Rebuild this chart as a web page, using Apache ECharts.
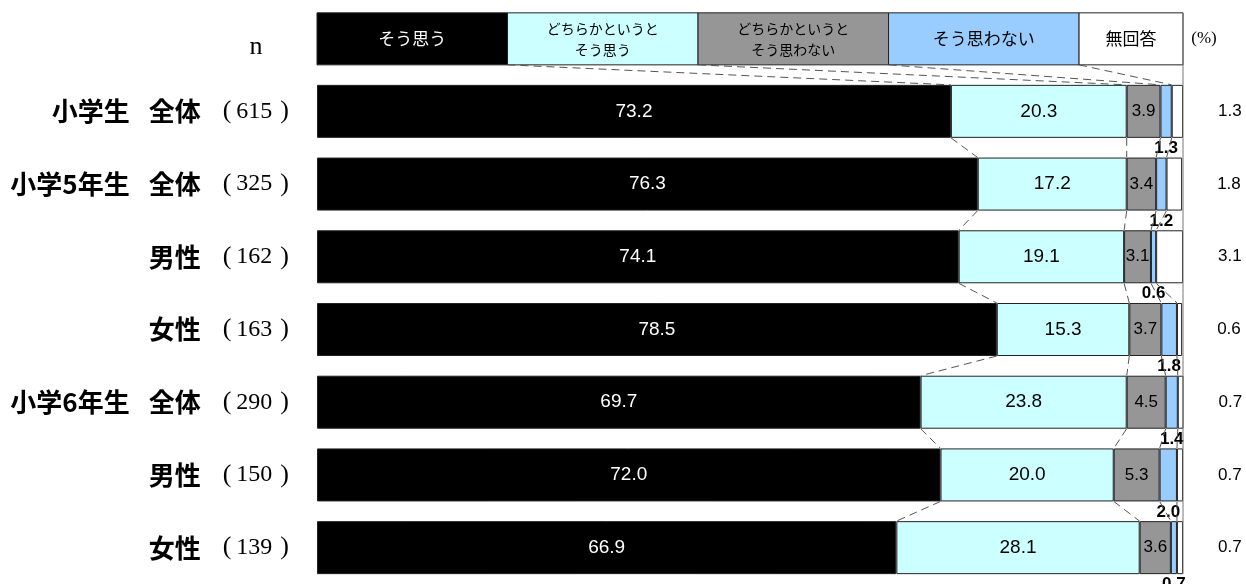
<!DOCTYPE html>
<html><head><meta charset="utf-8">
<script src="https://cdn.jsdelivr.net/npm/echarts@6/dist/echarts.min.js"></script>
<style>html,body{margin:0;padding:0;background:#fff}#c{width:1246px;height:584px}</style>
</head><body><div id="c"></div>
<script>
const categories = ['小学生 全体','小学5年生 全体','男性','女性','小学6年生 全体','男性','女性'];
const nCounts = ['615','325','162','163','290','150','139'];
const seriesNames = ['そう思う','どちらかというと\nそう思う','どちらかというと\nそう思わない','そう思わない','無回答'];
const sou = [73.2,76.3,74.1,78.5,69.7,72.0,66.9];
const dochiraSou = [20.3,17.2,19.1,15.3,23.8,20.0,28.1];
const dochiraNot = [3.9,3.4,3.1,3.7,4.5,5.3,3.6];
const souNot = [1.3,1.2,0.6,1.8,1.4,2.0,0.7];
const noAnswer = [1.3,1.8,3.1,0.6,0.7,0.7,0.7];
const legendSpans = [22,22,22,22,12];

const colors = ['#000000','#CCFFFF','#969696','#99CCFF','#FFFFFF'];
const textColors = ['#FFFFFF','#000000','#000000','#000000','#000000'];
const allSeries = [sou, dochiraSou, dochiraNot, souNot, noAnswer];
const BAR_W = 53;
const NUM_FONT = 'Liberation Sans, Arial, sans-serif';
const JP_FONT = '"Noto Sans CJK JP", sans-serif';
const SERIF = '"Liberation Serif", serif';

const yData = categories.map((c,i)=>c+'|'+nCounts[i]);

const chart = echarts.init(document.getElementById('c'), null, {renderer:'canvas'});

const barSeries = allSeries.map((vals, k) => {
  const s = {
    name: seriesNames[k], type:'bar', stack:'total', barWidth: BAR_W,
    data: vals,
    itemStyle: {color: colors[k], borderColor:'#222', borderWidth:1},
    label: {show:true, formatter: p => Number(p.value).toFixed(1), fontFamily: NUM_FONT,
            fontSize: 19, color: textColors[k], position:'inside'}
  };
  if (k===2) { s.label.fontSize = 17; }
  if (k===3) { s.label = {show:true, position:'bottom', distance:2, fontFamily:NUM_FONT, fontWeight:'bold',
      fontSize:17, color:'#000', formatter: p => Number(p.value).toFixed(1)}; }
  if (k===4) { s.label = {show:true, position:'right', distance:35, fontFamily:NUM_FONT,
      fontSize:17, color:'#000', formatter: p => Number(p.value).toFixed(1)}; }
  return s;
});

function cumAt(i, k){ let s=0; for(let j=0;j<k;j++) s+=allSeries[j][i]; return s; }

const overlay = {
  type:'custom', z: 5, silent:true, data:[[0,0]], clip:false,
  renderItem: function(params, api){
    const half = BAR_W/2;
    const children = [];
    const y0 = api.coord([0,0])[1];
    const legBottom = y0 - half - 20;
    const legTop = legBottom - 52;
    let acc = 0;
    const legX = [];
    for (let k=0;k<legendSpans.length;k++){
      const xa = api.coord([acc,0])[0];
      const xb = api.coord([acc+legendSpans[k],0])[0];
      legX.push(xa);
      children.push({type:'rect', shape:{x:xa,y:legTop,width:xb-xa,height:legBottom-legTop},
        style:{fill:colors[k], stroke:'#222', lineWidth:1}});
      const twoLine = seriesNames[k].indexOf('\n')>=0;
      children.push({type:'text', style:{text:seriesNames[k], x:(xa+xb)/2, y:(legTop+legBottom)/2,
        align:'center', verticalAlign:'middle', fill:textColors[k],
        font: (twoLine? '14px ':'17px ') + JP_FONT, lineHeight: twoLine?21:20}});
      acc += legendSpans[k];
    }
    legX.push(api.coord([acc,0])[0]);
    const dash = {stroke:'#555', lineWidth:1, lineDash:[8,5]};
    for (let k=1;k<=4;k++){
      const xb = api.coord([cumAt(0,k),0])[0];
      children.push({type:'line', shape:{x1:legX[k],y1:legBottom,x2:xb,y2:y0-half}, style:dash});
    }
    for (let i=0;i<categories.length-1;i++){
      const ya = api.coord([0,i])[1]+half;
      const yb = api.coord([0,i+1])[1]-half;
      for (let k=1;k<=4;k++){
        const xa = api.coord([cumAt(i,k),i])[0];
        const xb = api.coord([cumAt(i+1,k),i+1])[0];
        children.push({type:'line', shape:{x1:xa,y1:ya,x2:xb,y2:yb}, style:dash});
      }
    }
    const xr = api.coord([100,0])[0];
    const yLast = api.coord([0,categories.length-1])[1]+half;
    children.push({type:'line', shape:{x1:xr,y1:legTop,x2:xr,y2:yLast}, style:{stroke:'#777', lineWidth:1}});
    children.push({type:'text', style:{text:'n', x:256, y:(legTop+legBottom)/2+8, align:'center', verticalAlign:'middle',
      fill:'#000', font:'26px ' + SERIF}});
    children.push({type:'text', style:{text:'(%)', x:xr+21, y:(legTop+legBottom)/2, align:'center', verticalAlign:'middle',
      fill:'#000', font:'17px ' + SERIF}});
    return {type:'group', children};
  }
};

chart.setOption({
  animation:false,
  backgroundColor:'#fff',
  grid:{left:317, right:63, top:75, bottom:0, containLabel:false},
  xAxis:{type:'value', min:0, max:100, show:false},
  yAxis:{type:'category', inverse:true, data:yData,
    axisLine:{show:false}, axisTick:{show:false}, splitLine:{show:false},
    axisLabel:{margin:28, align:'right',
      formatter: v => { const [c,n] = v.split('|'); const parts = c.split(' ');
        return parts.map(p=>'{a|'+p+'}').join('{sp|　}') + '{pl|(}{b|' + n + '}{pr|)}'; },
      rich:{
        a:{fontFamily:JP_FONT, fontWeight:'bold', fontSize:26, color:'#000'},
        sp:{fontFamily:JP_FONT, fontSize:19},
        pl:{fontFamily:SERIF, fontSize:26, color:'#000', padding:[0,5,0,22]},
        b:{fontFamily:SERIF, fontSize:24, color:'#000'},
        pr:{fontFamily:SERIF, fontSize:26, color:'#000', padding:[0,0,0,8]}
      }}
  },
  series: barSeries.concat([overlay])
});
</script></body></html>
